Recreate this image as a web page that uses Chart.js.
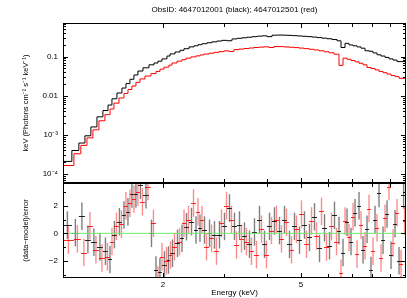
<!DOCTYPE html>
<html>
<head>
<meta charset="utf-8">
<script src="https://cdn.jsdelivr.net/npm/chart.js@4/dist/chart.umd.min.js"></script>
<style>
  html, body { margin: 0; padding: 0; background: #fff; }
  #wrap { position: relative; width: 407px; height: 298px; }
  canvas { position: absolute; left: 0; }
  #spec { top: 0; }
  #resid { top: 178px; }
</style>
</head>
<body>
<div id="wrap">
  <canvas id="spec" width="407" height="184"></canvas>
  <canvas id="resid" width="407" height="120"></canvas>
</div>
<script>
// labels and ticks
const titleText = "ObsID: 4647012001 (black); 4647012501 (red)";
const xTicks = [2, 3, 4, 5, 6, 7, 8, 9, 10];
const xTickLabels = [2, 5];
const specTicks = [1e-4, 1e-3, 0.01, 0.1];
const specTickText = ["10\u207B\u2074", "10\u207B\u00B3", "0.01", "0.1"];
const residTicks = [-3, -2, -1, 0, 1, 2, 3];
const residTickLabels = [-2, 0, 2];

// black spectrum (ObsID 4647012001): bin edges in keV, model, residuals
const blackEdges = [1.029, 1.092, 1.144, 1.191, 1.239, 1.290, 1.342, 1.388, 1.425, 1.473,
  1.523, 1.564, 1.606, 1.649, 1.693, 1.751, 1.822, 1.884, 1.934, 1.986,
  2.053, 2.095, 2.166, 2.239, 2.299, 2.377, 2.457, 2.523, 2.591, 2.679,
  2.769, 2.862, 2.959, 3.059, 3.162, 3.269, 3.379, 3.493, 3.611, 3.733,
  3.859, 3.990, 4.124, 4.263, 4.407, 4.556, 4.710, 4.869, 5.033, 5.203,
  5.379, 5.561, 5.748, 5.943, 6.143, 6.350, 6.521, 6.697, 6.877, 7.063,
  7.253, 7.448, 7.649, 7.855, 8.066, 8.283, 8.506, 8.735, 8.971, 9.212,
  9.460, 9.715, 10.05];
const blackModel = [8.2e-5, 2.1e-4, 4.0e-4, 6.2e-4, 9.5e-4, 1.6e-3, 2.9e-3, 4.2e-3, 5.8e-3, 8.4e-3,
  0.0118, 0.0158, 0.0205, 0.0265, 0.034, 0.043, 0.052, 0.062, 0.069, 0.077,
  0.088, 0.104, 0.118, 0.132, 0.146, 0.16, 0.178, 0.19, 0.203, 0.215,
  0.228, 0.24, 0.252, 0.262, 0.256, 0.285, 0.296, 0.305, 0.315, 0.325,
  0.335, 0.342, 0.326, 0.355, 0.358, 0.356, 0.352, 0.346, 0.34, 0.333,
  0.326, 0.318, 0.308, 0.298, 0.288, 0.275, 0.255, 0.172, 0.22, 0.2,
  0.19, 0.178, 0.165, 0.142, 0.138, 0.125, 0.112, 0.104, 0.096, 0.088,
  0.082, 0.075];
const blackResid = [0.6, 0.05, 1.25, -0.45, -0.65, -1.0, -1.3, -1.9, -0.1, 0.85,
  1.33, 1.57, 2.86, 2.86, 3.5, 2.8, 0.0, -2.67, -2.8, -2.3,
  -1.94, -1.45, -0.73, -0.36, 0.48, 0.85, 0.24, 0.36, 0.24, 0.0,
  -0.12, -0.1, 0.5, 1.84, 0.5, 0.6, -0.2, -0.8, 0.1, 1.0,
  -0.8, 0.5, 0.9, 0.2, 1.0, -0.8, 0.5, -0.5, 0.6, -0.3,
  1.2, -1.1, 0.4, -0.9, 1.3, 0.2, -1.4, 0.8, -0.6, 1.5,
  2.0, -1.2, 0.3, -2.7, 1.0, 2.9, -0.5, 1.4, -1.6, 0.7,
  -2.0, 2.8];

// red spectrum (ObsID 4647012501)
const redEdges = [1.029, 1.107, 1.159, 1.207, 1.256, 1.307, 1.360, 1.407, 1.444, 1.493,
  1.543, 1.585, 1.627, 1.671, 1.716, 1.774, 1.846, 1.909, 1.960, 2.013,
  2.080, 2.123, 2.195, 2.269, 2.330, 2.409, 2.490, 2.557, 2.626, 2.715,
  2.806, 2.900, 2.999, 3.100, 3.204, 3.313, 3.424, 3.540, 3.659, 3.783,
  3.911, 4.043, 4.179, 4.320, 4.466, 4.617, 4.773, 4.934, 5.100, 5.273,
  5.451, 5.635, 5.825, 6.022, 6.225, 6.435, 6.608, 6.787, 6.969, 7.157,
  7.350, 7.548, 7.751, 7.960, 8.174, 8.394, 8.620, 8.852, 9.091, 9.335,
  9.587, 9.845, 10.05];
const redModel = [6.2e-5, 1.65e-4, 3.3e-4, 5.4e-4, 8.4e-4, 1.35e-3, 2.3e-3, 3.3e-3, 4.6e-3, 6.5e-3,
  8.8e-3, 0.0115, 0.0145, 0.0178, 0.022, 0.027, 0.032, 0.037, 0.042, 0.048,
  0.054, 0.061, 0.069, 0.077, 0.084, 0.092, 0.099, 0.105, 0.111, 0.117,
  0.123, 0.129, 0.135, 0.141, 0.136, 0.152, 0.157, 0.162, 0.167, 0.172,
  0.176, 0.179, 0.172, 0.182, 0.181, 0.178, 0.175, 0.171, 0.166, 0.161,
  0.155, 0.149, 0.142, 0.134, 0.126, 0.116, 0.06, 0.092, 0.086, 0.08,
  0.074, 0.068, 0.062, 0.053, 0.05, 0.046, 0.042, 0.039, 0.036, 0.033,
  0.031, 0.028];
const redResid = [-0.5, -0.4, -1.4, 0.55, -1.2, -1.8, -1.7, -0.6, 0.5, 0.67,
  2.0, 2.18, 2.5, 3.0, 2.3, 3.4, 0.73, -3.4, -1.7, -2.0,
  -1.58, -0.97, -0.6, 0.73, 1.0, 2.2, 1.57, 1.0, -0.97, -0.36,
  -1.3, 0.73, 2.0, 1.0, -0.85, -0.4, -0.6, -1.3, -1.55, 0.3,
  -1.55, 0.2, 1.0, -0.4, 0.8, -1.2, 0.3, 1.4, -0.8, 0.9,
  -0.2, 1.6, -1.0, 0.5, -0.6, -2.9, 0.9, -0.3, 1.2, -1.5,
  0.6, -0.9, 1.8, -1.3, 0.4, -1.8, 1.1, 3.4, -0.7, 1.5,
  -2.2, 0.9];

const xMin = 1.0296, xMax = 10.04;
const FONT = '"Liberation Sans", Arial, sans-serif';

// step points for a histogram-style line
function steps(edges, vals) {
  const pts = vals.map((v, i) => ({ x: edges[i], y: v }));
  pts.push({ x: edges[edges.length - 1], y: vals[vals.length - 1] });
  return pts;
}
function centers(edges, vals) {
  return vals.map((v, i) => ({ x: (edges[i] + edges[i + 1]) / 2, y: v }));
}

// log minor ticks for the spectrum panel
const specMinor = [];
[1e-5, 1e-4, 1e-3, 1e-2, 1e-1].forEach(d => {
  for (let k = 2; k <= 9; k++) specMinor.push(k * d);
});

// box with inward ticks on all four sides
const framePlugin = {
  id: 'frame',
  afterDraw(chart, args, opts) {
    const { ctx, chartArea: a, scales } = chart;
    ctx.save();
    ctx.strokeStyle = '#000';
    ctx.lineWidth = 1;
    ctx.strokeRect(a.left + 0.5, a.top + 0.5, a.right - a.left - 1, a.bottom - a.top - 1);
    ctx.beginPath();
    xTicks.forEach(v => {
      const px = Math.round(scales.x.getPixelForValue(v)) + 0.5;
      const len = xTickLabels.includes(v) ? 5 : 4;
      ctx.moveTo(px, a.top); ctx.lineTo(px, a.top + len);
      ctx.moveTo(px, a.bottom); ctx.lineTo(px, a.bottom - len);
    });
    opts.yticks.forEach(([v, len]) => {
      const py = scales.y.getPixelForValue(v);
      if (py < a.top || py > a.bottom) return;
      const p = Math.round(py) + 0.5;
      ctx.moveTo(a.left, p); ctx.lineTo(a.left + len, p);
      ctx.moveTo(a.right, p); ctx.lineTo(a.right - len, p);
    });
    ctx.stroke();
    ctx.restore();
  }
};

const titlePlugin = {
  id: 'plotTitle',
  afterDraw(chart) {
    const { ctx, chartArea: a } = chart;
    ctx.save();
    ctx.fillStyle = '#000';
    ctx.font = '8px ' + FONT;
    ctx.textAlign = 'center';
    ctx.textBaseline = 'middle';
    ctx.fillText(titleText, (a.left + a.right) / 2, 10);
    ctx.restore();
  }
};

// residual error bars (+-1 sigma in these units) and bin widths
const errPlugin = {
  id: 'errbars',
  beforeDatasetsDraw(chart) {
    const { ctx, chartArea: a, scales: { x, y } } = chart;
    ctx.save();
    ctx.beginPath();
    ctx.rect(a.left, a.top, a.right - a.left, a.bottom - a.top);
    ctx.clip();
    [[blackEdges, blackResid, 'rgba(0,0,0,0.5)', 'rgba(0,0,0,0.85)'],
     [redEdges, redResid, 'rgba(255,0,0,0.45)', 'rgba(255,0,0,0.85)']].forEach(([edges, res, cv, ch]) => {
      res.forEach((r, i) => {
        const x0 = x.getPixelForValue(edges[i]);
        const x1 = x.getPixelForValue(edges[i + 1]);
        const xm = (x0 + x1) / 2;
        const ym = Math.round(y.getPixelForValue(r)) + 0.5;
        ctx.strokeStyle = cv;
        ctx.lineWidth = 1.4;
        ctx.beginPath();
        ctx.moveTo(xm, y.getPixelForValue(r + 1));
        ctx.lineTo(xm, y.getPixelForValue(r - 1));
        ctx.stroke();
        ctx.strokeStyle = ch;
        ctx.lineWidth = 1;
        ctx.beginPath();
        ctx.moveTo(x0, ym);
        ctx.lineTo(x1, ym);
        ctx.stroke();
      });
    });
    ctx.restore();
  }
};

// fixed axis boxes so both panels share the same plot frame
function fixY(s) { s.width = 63; s.paddingTop = 0; s.paddingBottom = 0; }
function fixX(s) { s.height = 20; s.paddingLeft = 0; s.paddingRight = 0; }

Chart.defaults.font.family = FONT;
Chart.defaults.color = '#000';

const specChart = new Chart(document.getElementById('spec'), {
  type: 'line',
  data: {
    datasets: [
      { data: steps(blackEdges, blackModel), borderColor: '#000', borderWidth: 1, stepped: 'after', pointRadius: 0, fill: false },
      { data: steps(redEdges, redModel), borderColor: '#f00', borderWidth: 1, stepped: 'after', pointRadius: 0, fill: false }
    ]
  },
  options: {
    responsive: false,
    animation: false,
    layout: { padding: { top: 23, right: 1, bottom: 1, left: 0 } },
    plugins: {
      legend: { display: false },
      tooltip: { enabled: false },
      frame: { yticks: specTicks.map(v => [v, 5]).concat(specMinor.map(v => [v, 3])) }
    },
    scales: {
      x: { type: 'logarithmic', min: xMin, max: xMax, display: false },
      y: {
        type: 'logarithmic', min: 5.89e-5, max: 0.728,
        afterFit: fixY,
        afterBuildTicks: s => { s.ticks = specTicks.map(v => ({ value: v })); },
        grid: { display: false, drawTicks: false },
        border: { display: false },
        ticks: { padding: 5, font: { size: 8 }, callback: (v, i) => specTickText[i] },
        title: {
          display: true,
          text: 'keV (Photons cm\u207B\u00B2 s\u207B\u00B9 keV\u207B\u00B9)',
          font: { size: 7.5 },
          padding: { top: 21, bottom: 0 }
        }
      }
    }
  },
  plugins: [framePlugin, titlePlugin]
});

const residChart = new Chart(document.getElementById('resid'), {
  type: 'scatter',
  data: {
    datasets: [
      { data: centers(blackEdges, blackResid), pointRadius: 0, borderColor: '#000' },
      { data: centers(redEdges, redResid), pointRadius: 0, borderColor: '#f00' },
      { type: 'line', data: [{ x: xMin, y: 0 }, { x: xMax, y: 0 }], borderColor: 'rgb(110,235,110)', borderWidth: 1, pointRadius: 0 }
    ]
  },
  options: {
    responsive: false,
    animation: false,
    layout: { padding: { top: 5, right: 1, bottom: 0, left: 0 } },
    plugins: {
      legend: { display: false },
      tooltip: { enabled: false },
      frame: { yticks: residTicks.map(v => [v, residTickLabels.includes(v) ? 5 : 3]) }
    },
    scales: {
      x: {
        type: 'logarithmic', min: xMin, max: xMax,
        afterFit: fixX,
        afterBuildTicks: s => { s.ticks = xTickLabels.map(v => ({ value: v })); },
        grid: { display: false, drawTicks: false },
        border: { display: false },
        ticks: { padding: 2, font: { size: 8 }, maxRotation: 0, callback: v => String(v) },
        title: { display: true, text: 'Energy (keV)', font: { size: 8 }, padding: { top: 0, bottom: 0 } }
      },
      y: {
        type: 'linear', min: -3.25, max: 3.66,
        afterFit: fixY,
        afterBuildTicks: s => { s.ticks = residTickLabels.map(v => ({ value: v })); },
        grid: { display: false, drawTicks: false },
        border: { display: false },
        ticks: { padding: 5, font: { size: 8 }, callback: v => (v < 0 ? '\u2212' + Math.abs(v) : String(v)) },
        title: {
          display: true,
          text: '(data\u2212model)/error',
          font: { size: 7.5 },
          padding: { top: 21, bottom: 0 }
        }
      }
    }
  },
  plugins: [errPlugin, framePlugin]
});
</script>
</body>
</html>
